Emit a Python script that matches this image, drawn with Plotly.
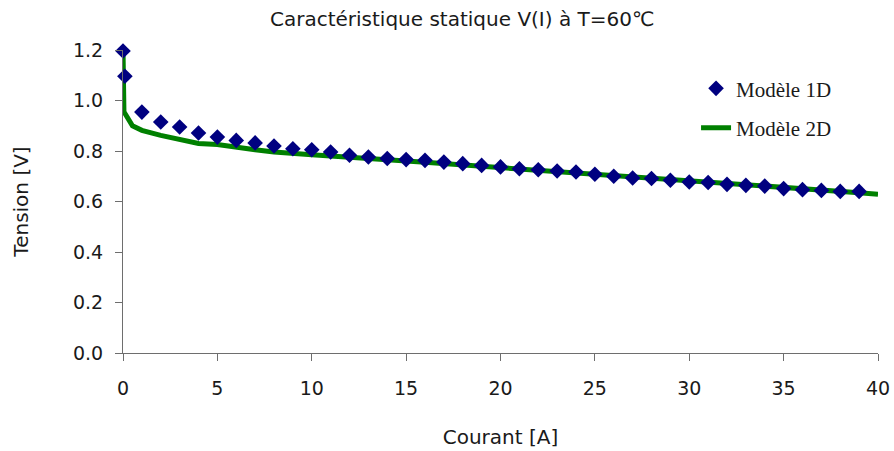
"""Caractéristique statique V(I) à T=60℃ — modèle 1D vs modèle 2D."""
import plotly.graph_objects as go

# Modèle 1D (points)
courant_1d = [0, 0.1] + list(range(1, 40))
tension_1d = [
    1.196, 1.096,
    0.954, 0.915, 0.895, 0.871, 0.855, 0.842, 0.832, 0.820, 0.809, 0.805,
    0.796, 0.783, 0.776, 0.770, 0.766, 0.763, 0.756, 0.750, 0.743, 0.737,
    0.730, 0.726, 0.721, 0.717, 0.708, 0.700, 0.693, 0.691, 0.684, 0.677,
    0.675, 0.668, 0.664, 0.661, 0.651, 0.647, 0.644, 0.640, 0.640,
]

# Modèle 2D (courbe)
courant_2d = [0, 0.05, 0.5] + list(range(1, 41))
tension_2d = [
    1.200, 0.955, 0.900,
    0.882, 0.862, 0.848, 0.830, 0.826, 0.813, 0.805, 0.796, 0.789, 0.785,
    0.780, 0.774, 0.768, 0.764, 0.760, 0.755, 0.750, 0.745, 0.740, 0.735,
    0.730, 0.725, 0.720, 0.714, 0.707, 0.702, 0.697, 0.692, 0.687, 0.682,
    0.677, 0.671, 0.666, 0.661, 0.656, 0.650, 0.645, 0.640, 0.635, 0.629,
]

SANS = "DejaVu Sans, Arial, sans-serif"
SERIF = "Liberation Serif, Times New Roman, serif"
AXIS_COLOR = "#6e6e6e"
TEXT = "#1a1a1a"

fig = go.Figure()
fig.add_trace(go.Scatter(
    x=courant_2d, y=tension_2d, mode="lines", name="Modèle 2D",
    line=dict(color="#008000", width=5), legendgroup="b", legendrank=2,
    cliponaxis=False,
))
fig.add_trace(go.Scatter(
    x=courant_1d, y=tension_1d, mode="markers", name="Modèle 1D",
    marker=dict(symbol="diamond", color="#000080", size=12),
    legendgroup="a", legendrank=1, cliponaxis=False,
))

axis_common = dict(
    showgrid=False, zeroline=False, showline=True, linecolor=AXIS_COLOR,
    linewidth=1, ticks="outside", ticklen=7, tickcolor=AXIS_COLOR,
    tickfont=dict(family=SANS, size=19, color=TEXT), automargin=False,
)
fig.update_xaxes(
    range=[0, 40], tickvals=[0, 5, 10, 15, 20, 25, 30, 35, 40], ticklabelstandoff=11,
    title=dict(text="Courant [A]", font=dict(family=SANS, size=20, color=TEXT), standoff=32),
    **axis_common,
)
fig.update_yaxes(
    range=[0, 1.2], tickvals=[0, 0.2, 0.4, 0.6, 0.8, 1.0, 1.2], tickformat=".1f",
    ticklabelstandoff=8,
    title=dict(text="Tension [V]", font=dict(family=SANS, size=20, color=TEXT), standoff=38),
    **axis_common,
)
fig.update_layout(
    width=894, height=451, template="plotly_white",
    plot_bgcolor="white", paper_bgcolor="white",
    margin=dict(l=123, r=16, t=50, b=98),
    title=dict(text="Caractéristique statique V(I) à T=60℃", x=0.517, xanchor="center",
               y=0.958, yanchor="middle", font=dict(family=SANS, size=20, color=TEXT)),
    legend=dict(x=0.759, y=0.94, xanchor="left", yanchor="top", traceorder="grouped",
                tracegroupgap=9, bgcolor="rgba(0,0,0,0)",
                font=dict(family=SERIF, size=21, color=TEXT)),
)

# drop the default 8 px body margin and scrollbars so the figure fills the window
fig.write_html(
    "out.html",
    config={"displayModeBar": False},
    post_script="document.body.style.margin='0';document.body.style.overflow='hidden';",
)
